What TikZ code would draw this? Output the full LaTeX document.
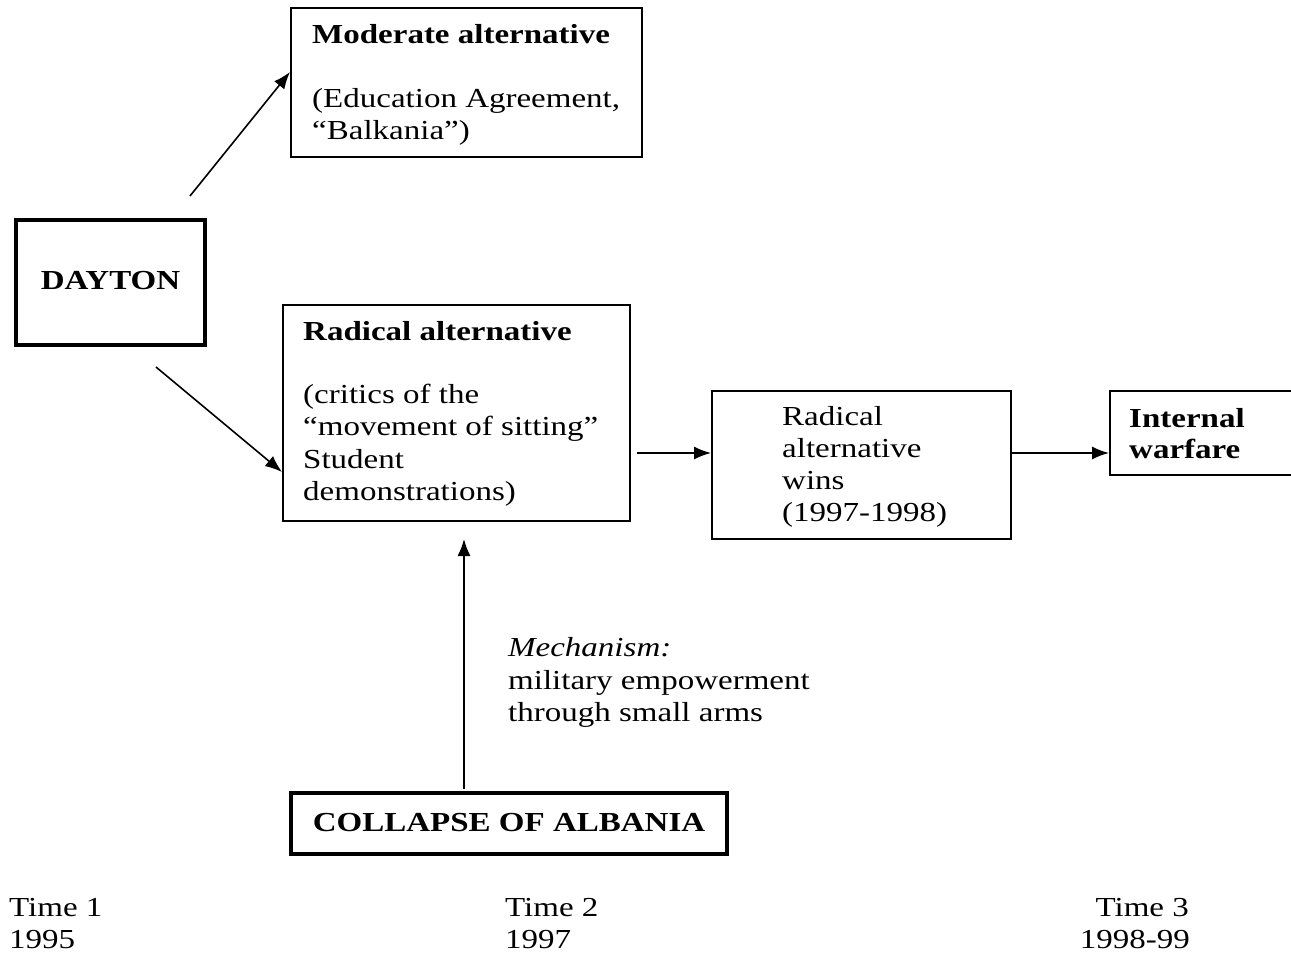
\documentclass[tikz,border=0pt]{standalone}
\usepackage{fontspec}
\setmainfont{Liberation Serif}[FakeStretch=1.2]
\usetikzlibrary{arrows.meta}
\begin{document}
\begin{tikzpicture}[x=1pt,y=-1pt,
  box/.style={draw, line width=1.8pt, inner sep=0pt, anchor=north west},
  heavybox/.style={draw, line width=4pt, inner sep=0pt, anchor=center},
  txt/.style={anchor=base west, inner sep=0pt, font=\fontsize{27.5}{32}\selectfont},
  ttl/.style={txt, font=\fontsize{27.5}{32}\selectfont\bfseries},
  flow/.style={line width=1.6pt, -{Latex[length=17pt,width=13pt]}}]
\useasboundingbox (0,0) rectangle (1291,953);
\clip (0,0) rectangle (1291,953);

% boxes
\node[box, minimum width=351pt, minimum height=149pt] (mod) at (290,7) {};
\node[heavybox, minimum width=189pt, minimum height=125pt] (dayton) at (110.5,282.5) {};
\node[box, minimum width=347pt, minimum height=216pt] (rad) at (282,304) {};
\node[box, minimum width=299pt, minimum height=148pt] (wins) at (711,390) {};
\node[box, minimum width=220pt, minimum height=84pt] (war) at (1109,390) {};
\node[heavybox, minimum width=436pt, minimum height=61pt] (alb) at (509,823.5) {};

% box texts
\node[ttl] (modT) at (312,43) {Moderate alternative};
\node[txt] (modA) at (312,107) {(Education Agreement,};
\node[txt] (modB) at (312,139) {“Balkania”)};

\node[ttl, anchor=center] (dayT) at ([yshift=1.5pt]dayton.center) {DAYTON};

\node[ttl] (radT) at (303,340) {Radical alternative};
\node[txt] (radA) at (303,403) {(critics of the};
\node[txt] (radB) at (303,435) {“movement of sitting”};
\node[txt] (radC) at (303,468) {Student};
\node[txt] (radD) at (303,500) {demonstrations)};

\node[txt] (winA) at (782,425) {Radical};
\node[txt] (winB) at (782,457) {alternative};
\node[txt] (winC) at (782,489) {wins};
\node[txt] (winD) at (782,521) {(1997-1998)};

\node[ttl] (warA) at (1129,427) {Internal};
\node[ttl] (warB) at (1129,458) {warfare};

\node[ttl, anchor=center] (albT) at ([yshift=0.5pt]alb.center) {COLLAPSE OF ALBANIA};

% mechanism note
\node[txt] (mechA) at (508,656) {\itshape Mechanism:};
\node[txt] (mechB) at (508,689) {military empowerment};
\node[txt] (mechC) at (508,721) {through small arms};

% time axis labels
\node[txt] (t1a) at (9,916) {Time 1};
\node[txt] (t1b) at (9,948) {1995};
\node[txt] (t2a) at (505,916) {Time 2};
\node[txt] (t2b) at (505,948) {1997};
\node[txt, anchor=base east] (t3a) at (1189,916) {Time 3};
\node[txt, anchor=base east] (t3b) at (1190,948) {1998-99};

% connector end points
\coordinate (dUp) at (190,196);
\coordinate (modIn) at (290,72);
\coordinate (dDown) at (156,367);
\coordinate (radIn) at (282,472);
\coordinate (radOut) at (637,453);
\coordinate (winsIn) at (711,453);
\coordinate (winsOut) at (1010,453);
\coordinate (warIn) at (1109,453);
\coordinate (albOut) at (464,789);
\coordinate (radBelow) at (464,539);

% connectors
\draw[flow] (dUp) -- (modIn);
\draw[flow] (dDown) -- (radIn);
\draw[flow] (radOut) -- (winsIn);
\draw[flow] (winsOut) -- (warIn);
\draw[flow] (albOut) -- (radBelow);
\end{tikzpicture}
\end{document}
